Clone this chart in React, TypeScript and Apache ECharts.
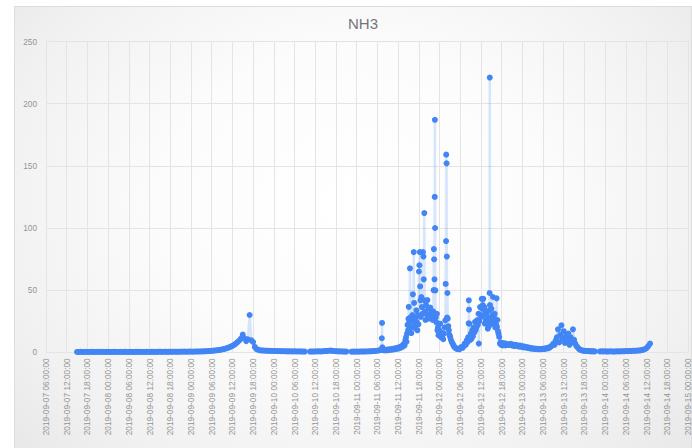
import React, { useEffect, useRef } from 'react';
import * as echarts from 'echarts';

// Title and axes
const TITLE = 'NH3';
const Y_MIN = 0;
const Y_MAX = 250;
const Y_STEP = 50;
// x values are hours since 2019-09-07 00:00:00
const X_MIN_H = 6;   // 2019-09-07 06:00:00
const X_MAX_H = 192; // 2019-09-15 00:00:00
const X_STEP_H = 6;

// Segment 1: 2019-09-07 15:00 .. 2019-09-10 09:00, 30-minute readings
const SEG1_START_H = 15;
const SEG1_STEP_H = 0.5;
const SEG1 = [
  0.3, 0.3, 0.4, 0.3, 0.3, 0.4, 0.3, 0.3, 0.4, 0.4,
  0.3, 0.3, 0.4, 0.3, 0.4, 0.4, 0.3, 0.3, 0.4, 0.3,
  0.3, 0.4, 0.4, 0.3, 0.3, 0.4, 0.3, 0.4, 0.4, 0.3,
  0.3, 0.4, 0.3, 0.3, 0.4, 0.4, 0.3, 0.4, 0.3, 0.3,
  0.4, 0.4, 0.3, 0.4, 0.4, 0.3, 0.4, 0.4, 0.5, 0.4,
  0.4, 0.5, 0.4, 0.4, 0.5, 0.4, 0.5, 0.5, 0.4, 0.5,
  0.5, 0.5, 0.6, 0.5, 0.5, 0.6, 0.6, 0.5, 0.6, 0.7,
  0.6, 0.7, 0.7, 0.8, 0.8, 0.9, 1.0, 1.1,
  1.2, 1.3, 1.5, 1.6, 1.8, 2.0, 2.3, 2.6, 3.0, 3.4,
  3.9, 4.5, 5.2, 6.0, 7.0, 8.2, 9.5, 11.0, 14.2, 11.3,
  9.0, 10.5, 30.0, 9.6, 8.3, 4.3, 2.6, 2.0, 1.6, 1.5,
  1.4, 1.3, 1.3, 1.2, 1.2, 1.1, 1.1, 1.0, 1.0, 1.0,
  0.9, 0.9, 0.9, 0.8, 0.8, 0.8, 0.8, 0.7, 0.8, 0.7,
  0.7, 0.7, 0.7, 0.6, 0.6,
];

// Segment 2: 2019-09-10 10:30 .. 21:00, 30-minute readings
const SEG2_START_H = 82.5;
const SEG2_STEP_H = 0.5;
const SEG2 = [
  0.6, 0.7, 0.6, 0.7, 0.7, 0.8, 0.7, 0.8, 0.9, 1.0,
  1.1, 1.3, 1.4, 1.2, 1.0, 0.9, 0.8, 0.8, 0.7, 0.7,
  0.6, 0.6,
];

// Segment 3: 2019-09-10 22:30 .. 2019-09-11 06:30, 30-minute readings
const SEG3_START_H = 94.5;
const SEG3_STEP_H = 0.5;
const SEG3 = [
  0.5, 0.6, 0.6, 0.5, 0.6, 0.6, 0.7, 0.6, 0.7, 0.7,
  0.8, 0.8, 0.9, 1.0, 1.1, 1.3, 1.5,
];

// Active period 2019-09-11 07:00 .. 2019-09-12 19:40: [hour, value]
const ACTIVE: [number, number][] = [
  [103.0, 1.8], [103.2, 2.6], [103.3, 11.3], [103.36, 23.6], [103.45, 4.0], [103.6, 2.2],
  [103.9, 1.6], [104.2, 2.0], [104.5, 1.5], [104.8, 2.2], [105.1, 1.7], [105.4, 2.4],
  [105.7, 1.9], [106.0, 2.6], [106.3, 2.1], [106.6, 2.9], [106.9, 2.4], [107.2, 3.2],
  [107.5, 2.7], [107.8, 3.6], [108.1, 3.0], [108.4, 4.2], [108.7, 3.6], [109.0, 5.0],
  [109.3, 4.4], [109.6, 6.5], [109.9, 5.6], [110.1, 9.6], [110.3, 12.0], [110.45, 8.5],
  [110.6, 15.0], [110.75, 22.0], [110.9, 17.7], [111.0, 27.0], [111.1, 36.5], [111.2, 24.0],
  [111.3, 18.5], [111.45, 67.5], [111.55, 28.0], [111.7, 20.0], [111.85, 15.5], [112.0, 25.0],
  [112.15, 30.0], [112.3, 46.6], [112.4, 27.5], [112.55, 80.6], [112.65, 39.7], [112.8, 22.0],
  [112.95, 19.5], [113.1, 27.5], [113.3, 33.8], [113.45, 24.0], [113.6, 17.7], [113.75, 30.0],
  [113.9, 22.5], [114.05, 65.0], [114.2, 70.0], [114.3, 80.6], [114.4, 53.0], [114.5, 41.8],
  [114.6, 28.4], [114.75, 44.5], [114.9, 36.4], [115.05, 31.0], [115.2, 80.6], [115.35, 77.0],
  [115.45, 58.7], [115.6, 112.0], [115.7, 41.8], [115.8, 33.0], [115.95, 26.0], [116.1, 38.0],
  [116.3, 30.5], [116.5, 42.0], [116.7, 27.0], [116.9, 35.0], [117.1, 29.0], [117.3, 36.0],
  [117.5, 31.0], [117.7, 28.0], [117.85, 31.0], [118.0, 26.0], [118.15, 33.0], [118.3, 50.0],
  [118.38, 83.0], [118.45, 74.8], [118.55, 58.7], [118.62, 125.0], [118.67, 187.0], [118.72, 100.0],
  [118.8, 49.8], [118.88, 31.0], [118.95, 28.0], [119.1, 24.0], [119.25, 31.0], [119.4, 17.7],
  [119.55, 20.0], [119.7, 13.7], [119.85, 18.0], [120.0, 15.0], [120.2, 23.0], [120.35, 12.4],
  [120.5, 16.0], [120.7, 12.0], [120.9, 15.0], [121.1, 10.5], [121.3, 15.0], [121.5, 20.0],
  [121.7, 25.7], [121.8, 55.0], [121.9, 89.5], [121.95, 159.0], [122.05, 152.0], [122.12, 77.0],
  [122.2, 28.0], [122.3, 47.7], [122.4, 27.0], [122.55, 21.0], [122.72, 17.7], [122.9, 14.0],
  [123.1, 12.4], [123.3, 10.0], [123.55, 8.3], [123.8, 7.0], [124.05, 5.6], [124.3, 4.3],
  [124.6, 3.6], [124.9, 3.0], [125.2, 2.6], [125.5, 3.0], [125.8, 2.4], [126.1, 3.4],
  [126.4, 4.3], [126.7, 3.6], [127.0, 5.0], [127.3, 7.0], [127.6, 6.0], [127.9, 9.6],
  [128.1, 8.0], [128.3, 12.0], [128.45, 23.3], [128.5, 41.8], [128.55, 34.3], [128.65, 23.0],
  [128.8, 12.4], [128.95, 10.0], [129.1, 15.0], [129.3, 11.0], [129.5, 17.7], [129.7, 13.0],
  [129.9, 20.0], [130.1, 16.0], [130.3, 24.4], [130.5, 18.0], [130.7, 20.4], [130.9, 26.0],
  [131.1, 22.0], [131.3, 31.0], [131.4, 7.0], [131.55, 25.0], [131.75, 36.4], [131.95, 30.0],
  [132.1, 28.4], [132.25, 43.0], [132.4, 35.0], [132.55, 38.0], [132.7, 43.0], [132.85, 30.0],
  [133.0, 36.4], [133.15, 23.0], [133.3, 33.0], [133.45, 26.0], [133.6, 31.0], [133.8, 24.0],
  [134.0, 19.0], [134.15, 28.0], [134.3, 21.0], [134.45, 33.8], [134.52, 47.7], [134.57, 221.0],
  [134.62, 38.0], [134.75, 27.0], [134.9, 25.0], [135.05, 35.0], [135.2, 23.0], [135.35, 30.0],
  [135.5, 44.5], [135.65, 23.0], [135.8, 28.0], [136.0, 31.0], [136.15, 20.0], [136.3, 25.7],
  [136.45, 22.0], [136.55, 43.4], [136.65, 20.4], [136.8, 26.0], [136.95, 17.0], [137.1, 15.0],
  [137.3, 12.4], [137.5, 7.0], [137.7, 8.0], [137.9, 6.0], [138.1, 7.5], [138.3, 5.5],
  [138.5, 7.0], [138.7, 6.0], [138.9, 7.2], [139.1, 5.5], [139.3, 6.8], [139.6, 6.0],
];

// Segment 4: 2019-09-12 20:00 .. 2019-09-13 21:00, 20-minute readings
const SEG4_START_H = 140;
const SEG4_STEP_H = 1 / 3;
const SEG4 = [
  6.5, 5.8, 6.8, 5.5, 6.2, 5.0, 6.0, 5.2, 5.6, 4.6,
  5.4, 4.4, 5.0, 4.0, 4.6, 3.8, 4.2, 3.4, 3.8, 3.0,
  3.4, 2.8, 3.1, 2.6, 2.9, 2.5, 2.8, 2.4, 2.7, 2.5,
  2.9, 2.6, 3.2, 3.0, 3.6, 3.3, 4.2, 4.8, 5.5, 7.0,
  6.0, 9.5, 12.0, 18.5, 8.0, 14.0, 21.7, 11.0, 17.0, 7.5,
  13.0, 9.0, 15.0, 6.0, 12.0, 8.0, 18.5, 10.0, 7.0, 5.0,
  4.0, 3.0, 2.2, 1.8, 1.5, 1.3, 1.2, 1.1, 1.0, 1.0,
  0.9, 0.9, 0.8, 0.8, 0.8, 0.7,
];

// Segment 5: 2019-09-13 22:30 .. 2019-09-14 13:00, 30-minute readings
const SEG5_START_H = 166.5;
const SEG5_STEP_H = 0.5;
const SEG5 = [
  0.7, 0.8, 0.7, 0.8, 0.6, 0.7, 0.8, 0.7, 0.6, 0.7,
  0.8, 0.7, 0.8, 0.9, 0.8, 1.0, 0.9, 1.1, 1.0, 1.2,
  1.3, 1.2, 1.5, 1.4, 1.8, 2.0, 2.6, 3.4, 5.0, 7.0,
];

function seg(start: number, step: number, vals: number[]): (number | string)[][] {
  return vals.map((v, i) => [start + i * step, v]);
}

function buildData(): (number | string)[][] {
  const out: (number | string)[][] = [];
  out.push(...seg(SEG1_START_H, SEG1_STEP_H, SEG1));
  out.push([(SEG1_START_H + (SEG1.length - 1) * SEG1_STEP_H + SEG2_START_H) / 2, '-']);
  out.push(...seg(SEG2_START_H, SEG2_STEP_H, SEG2));
  out.push([(SEG2_START_H + (SEG2.length - 1) * SEG2_STEP_H + SEG3_START_H) / 2, '-']);
  out.push(...seg(SEG3_START_H, SEG3_STEP_H, SEG3));
  out.push(...ACTIVE.map((p) => [p[0], p[1]]));
  out.push(...seg(SEG4_START_H, SEG4_STEP_H, SEG4));
  out.push([(SEG4_START_H + (SEG4.length - 1) * SEG4_STEP_H + SEG5_START_H) / 2, '-']);
  out.push(...seg(SEG5_START_H, SEG5_STEP_H, SEG5));
  return out;
}

const pad = (n: number) => (n < 10 ? '0' + n : '' + n);
function fmtHour(v: number): string {
  const h = Math.round(v);
  const day = 7 + Math.floor(h / 24);
  const hh = h % 24;
  return `2019-09-${pad(day)} ${pad(hh)}:00:00`;
}

const FONT = '"Liberation Sans", Arial, sans-serif';

export default function App() {
  const ref = useRef<HTMLDivElement>(null);
  useEffect(() => {
    if (!ref.current) return;
    const chart = echarts.init(ref.current, null, { renderer: 'svg' });
    chart.setOption({
      animation: false,
      title: {
        text: TITLE,
        left: 343,
        top: 11,
        textStyle: { fontFamily: FONT, fontSize: 15, fontWeight: 'normal', color: '#757575' },
      },
      grid: { left: 46, right: 2, top: 41.5, bottom: 95.7, containLabel: false },
      xAxis: {
        type: 'value',
        min: X_MIN_H,
        max: X_MAX_H,
        interval: X_STEP_H,
        axisLine: { show: false },
        axisTick: { show: false },
        splitLine: { show: true, lineStyle: { color: '#e4e4e4', width: 1 } },
        axisLabel: {
          rotate: 90,
          margin: 6,
          fontFamily: FONT,
          fontSize: 8.3,
          color: '#959595',
          showMinLabel: true,
          showMaxLabel: true,
          formatter: (v: number) => fmtHour(v),
        },
      },
      yAxis: {
        type: 'value',
        min: Y_MIN,
        max: Y_MAX,
        interval: Y_STEP,
        axisLine: { show: false },
        axisTick: { show: false },
        splitLine: { show: true, lineStyle: { color: '#e4e4e4', width: 1 } },
        axisLabel: { margin: 9, fontFamily: FONT, fontSize: 8.3, color: '#959595' },
      },
      series: [
        {
          name: TITLE,
          type: 'line',
          data: buildData(),
          connectNulls: false,
          showSymbol: true,
          symbol: 'circle',
          symbolSize: 6,
          itemStyle: { color: '#4285f4' },
          lineStyle: { color: 'rgba(66,133,244,0.2)', width: 2.5 },
          emphasis: { disabled: true },
        },
      ],
    });
    return () => chart.dispose();
  }, []);
  return (
    <div style={{ position: 'fixed', left: 0, top: 0, width: 692, height: 448, background: '#ffffff', overflow: 'hidden' }}>
      <div
        style={{
          position: 'absolute',
          left: 14,
          top: 6,
          width: 676,
          height: 470,
          border: '1px solid #dddddd',
          background: 'radial-gradient(ellipse at 50% 42%, #ffffff 0%, #fcfcfc 40%, #f1f1f1 75%, #e6e6e6 100%)',
        }}
      />
      <div ref={ref} style={{ position: 'absolute', left: 0, top: 0, width: 692, height: 448 }} />
    </div>
  );
}
